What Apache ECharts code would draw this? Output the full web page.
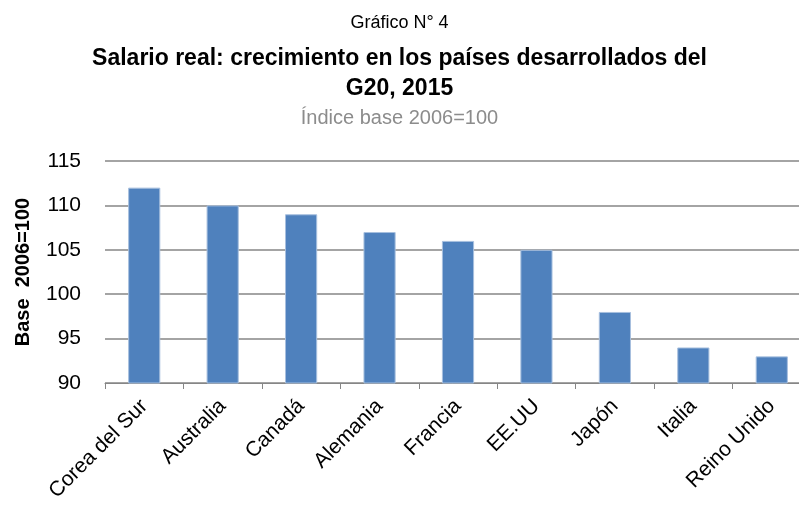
<!DOCTYPE html>
<html>
<head>
<meta charset="utf-8">
<script src="https://cdn.jsdelivr.net/npm/echarts@6/dist/echarts.min.js"></script>
<style>
  html, body { margin: 0; padding: 0; background: #fff; }
  #chart { width: 799px; height: 506px; }
</style>
</head>
<body>
<div id="chart"></div>
<script>
// datos
const paises = ['Corea del Sur', 'Australia', 'Canadá', 'Alemania', 'Francia', 'EE.UU', 'Japón', 'Italia', 'Reino Unido']
const indice = [112, 110, 109, 107, 106, 105, 98, 94, 93]

const fuente = "'Liberation Sans', sans-serif"

const chart = echarts.init(document.getElementById('chart'), null, { renderer: 'canvas' })

const option = {
  backgroundColor: '#fff',
  animation: false,
  title: [
    {
      text: 'Gráfico N° 4',
      left: 'center',
      top: 9,
      textStyle: { fontFamily: fuente, fontSize: 18, fontWeight: 'normal', color: '#000' },
    },
    {
      text: 'Salario real: crecimiento en los países desarrollados del\nG20, 2015',
      left: 'center',
      top: 39,
      textStyle: { fontFamily: fuente, fontSize: 23, fontWeight: 'bold', color: '#000', lineHeight: 30 },
    },
    {
      text: 'Índice base 2006=100',
      left: 'center',
      top: 103,
      textStyle: { fontFamily: fuente, fontSize: 20, fontWeight: 'normal', color: '#8c8c8c' },
    },
  ],
  // la zona del gráfico se sale un poco por la derecha, como en el original
  grid: { left: 105, width: 706, top: 161, height: 222, outerBoundsMode: 'none', containLabel: false },
  xAxis: {
    type: 'category',
    data: paises,
    axisLine: { show: true, lineStyle: { color: '#868686', width: 1 } },
    axisTick: { show: true, length: 6, lineStyle: { color: '#868686' } },
    axisLabel: {
      rotate: 45,
      interval: 0,
      margin: 20,
      fontFamily: fuente,
      fontSize: 21,
      color: '#000',
    },
  },
  yAxis: {
    type: 'value',
    min: 90,
    max: 115,
    interval: 5,
    name: 'Base  2006=100',
    nameLocation: 'middle',
    nameGap: 72,
    nameRotate: 90,
    nameTextStyle: { fontFamily: fuente, fontSize: 20, fontWeight: 'bold', color: '#000' },
    axisLine: { show: false },
    axisTick: { show: false },
    axisLabel: { fontFamily: fuente, fontSize: 21, color: '#000', margin: 24 },
    splitLine: { lineStyle: { color: '#868686', width: 1.5 } },
  },
  series: [
    {
      type: 'bar',
      data: indice,
      barWidth: '41%',
      itemStyle: { color: '#4f81bd', borderColor: '#a7bfde', borderWidth: 1 },
    },
  ],
}

chart.setOption(option)
</script>
</body>
</html>
